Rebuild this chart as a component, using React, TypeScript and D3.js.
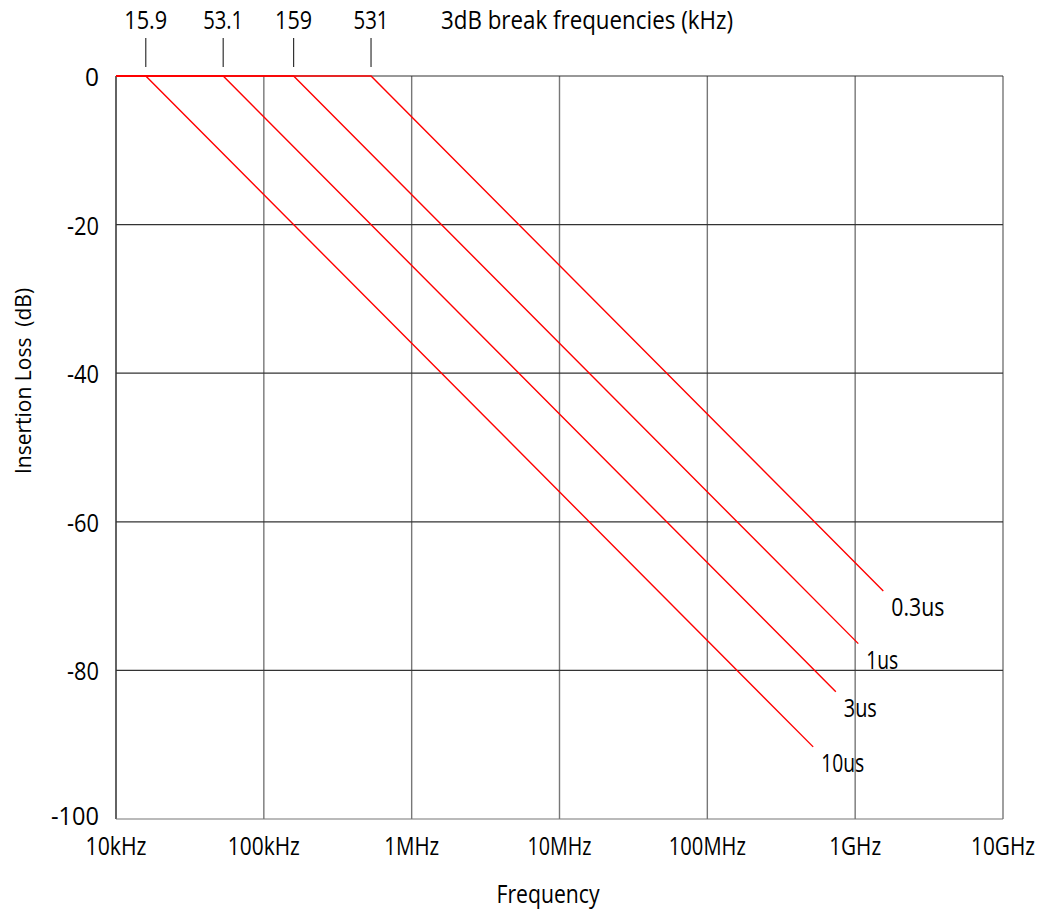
import React from "react";
import * as d3 from "d3";

const width = 1040;
const height = 916;
const margin = { left: 116, right: 37, top: 76, bottom: 97 };

// frequency decades (Hz) and labels
const xTicks = [1e4, 1e5, 1e6, 1e7, 1e8, 1e9, 1e10];
const xTickLabels = ["10kHz", "100kHz", "1MHz", "10MHz", "100MHz", "1GHz", "10GHz"];
const yTicks = [0, -20, -40, -60, -80, -100];

// filter curves: rise time label, 3dB break (kHz), end frequency (Hz)
const riseTimes = ["10us", "3us", "1us", "0.3us"];
const breakFreqs = [15.9, 53.1, 159, 531];
const endFreqs = [5.2e8, 7.4e8, 1.05e9, 1.55e9];
const breakLabels = ["15.9", "53.1", "159", "531"];

// the original type is a tall, tightly set face: squeeze Open Sans to the measured widths
const font = "'Open Sans', sans-serif";
const xLabelWidths = [61, 72, 55, 64, 77, 52, 64];
const yLabelWidths = [14, 32, 32, 32, 32, 48];
const breakLabelWidths = [43, 40, 37, 35];
const curveLabelWidths = [43, 33, 32, 53];

const Label = (p: any) => (
  <text
    fontFamily={font}
    fontSize={26}
    lengthAdjust="spacingAndGlyphs"
    fill="#000"
    {...p}
  />
);

export default function App() {
  const x = d3
    .scaleLog()
    .domain([1e4, 1e10])
    .range([margin.left, width - margin.right]);
  const y = d3
    .scaleLinear()
    .domain([0, -100])
    .range([margin.top, height - margin.bottom]);

  const line = d3
    .line<[number, number]>()
    .x(d => x(d[0]))
    .y(d => y(d[1]));

  const curves = riseTimes.map((rt, i) => {
    const fb = breakFreqs[i] * 1000;
    const fe = endFreqs[i];
    const lossEnd = -20 * Math.log10(fe / fb);
    return { rt, pts: [[1e4, 0], [fb, 0], [fe, lossEnd]] as [number, number][], fe, lossEnd };
  });

  return (
    <svg width={width} height={height} style={{ display: "block", position: "absolute", left: 0, top: 0 }}>
      <rect width={width} height={height} fill="#fff" />
      {xTicks.map((t, i) => (
        <line
          key={"vx" + i}
          x1={x(t)}
          x2={x(t)}
          y1={y(0)}
          y2={y(-100)}
          stroke={i === 0 ? "#222" : "#777"}
          strokeWidth={1.4}
        />
      ))}
      {yTicks.map((t, i) => (
        <line
          key={"hy" + i}
          x1={x(1e4)}
          x2={x(1e10)}
          y1={y(t)}
          y2={y(t)}
          stroke={i === yTicks.length - 1 ? "#777" : "#333"}
          strokeWidth={1.2}
        />
      ))}
      {curves.map((c, i) => (
        <path key={"c" + i} d={line(c.pts) || ""} fill="none" stroke="#ff0000" strokeWidth={1.4} />
      ))}
      {curves.map((c, i) => (
        <Label key={"l" + i} x={x(c.fe) + 8} y={y(c.lossEnd) + 25} textLength={curveLabelWidths[i]}>
          {c.rt}
        </Label>
      ))}
      {breakFreqs.map((f, i) => (
        <g key={"b" + i}>
          <line x1={x(f * 1000)} x2={x(f * 1000)} y1={38} y2={67} stroke="#333" strokeWidth={1.2} />
          <Label x={x(f * 1000)} y={29} textAnchor="middle" textLength={breakLabelWidths[i]}>
            {breakLabels[i]}
          </Label>
        </g>
      ))}
      <Label x={441} y={29} textLength={292}>
        3dB break frequencies (kHz)
      </Label>
      {yTicks.map((t, i) => (
        <Label
          key={"yt" + i}
          x={99}
          y={Math.min(y(t) + 10, y(-100) + 6)}
          textAnchor="end"
          textLength={yLabelWidths[i]}
        >
          {t}
        </Label>
      ))}
      {xTicks.map((t, i) => (
        <Label key={"xt" + i} x={x(t)} y={855} textAnchor="middle" textLength={xLabelWidths[i]}>
          {xTickLabels[i]}
        </Label>
      ))}
      <Label x={548} y={903} textAnchor="middle" textLength={103}>
        Frequency
      </Label>
      <text
        transform={`translate(31, 381) rotate(-90)`}
        textAnchor="middle"
        fontFamily={font}
        fontSize={21}
        xmlSpace="preserve"
        style={{ whiteSpace: "pre" }}
      >
        {"Insertion Loss  (dB)"}
      </text>
    </svg>
  );
}
